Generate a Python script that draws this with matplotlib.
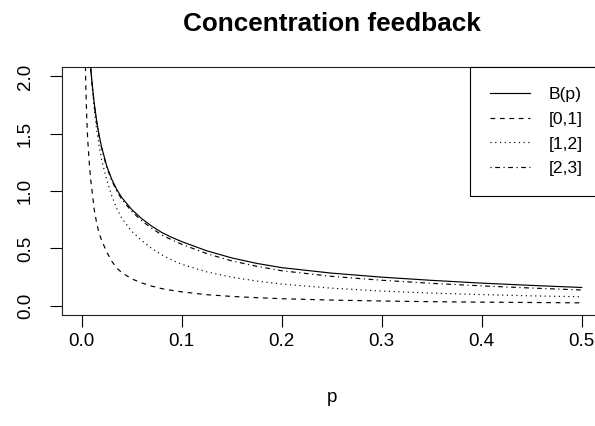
import matplotlib
matplotlib.use("Agg")
import matplotlib.pyplot as plt

plt.rcParams['font.family'] = ['Liberation Sans', 'DejaVu Sans']

# values
p = [0.003, 0.004, 0.005, 0.006, 0.007, 0.008, 0.009, 0.01, 0.0125, 0.015,
     0.0175, 0.02, 0.025, 0.03, 0.035, 0.04, 0.05, 0.06, 0.07, 0.08, 0.09,
     0.1, 0.125, 0.15, 0.175, 0.2, 0.25, 0.3, 0.35, 0.4, 0.45, 0.5]

B_p = [3.3, 3.0, 2.75, 2.52, 2.35, 2.2, 2.08, 1.976, 1.768, 1.61,
       1.484, 1.381, 1.22, 1.105, 1.015, 0.945, 0.84, 0.76, 0.695, 0.64, 0.597,
       0.56, 0.48, 0.418, 0.37, 0.333, 0.285, 0.25, 0.222, 0.198, 0.178, 0.16]

int_01 = [2.5, 1.95, 1.65, 1.45, 1.32, 1.2, 1.1, 1.03, 0.84, 0.72,
          0.63, 0.57, 0.47, 0.39, 0.33, 0.29, 0.235, 0.2, 0.172, 0.15, 0.135,
          0.122, 0.097, 0.082, 0.071, 0.062, 0.05, 0.042, 0.036, 0.032, 0.029, 0.026]

int_12 = [3.2, 2.9, 2.65, 2.45, 2.3, 2.18, 2.07, 1.96, 1.72, 1.53,
          1.39, 1.27, 1.10, 0.96, 0.85, 0.765, 0.65, 0.57, 0.50, 0.445, 0.40,
          0.362, 0.296, 0.25, 0.216, 0.19, 0.154, 0.129, 0.111, 0.098, 0.087, 0.079]

int_23 = [3.3, 3.0, 2.74, 2.51, 2.34, 2.19, 2.07, 1.967, 1.758, 1.60,
          1.474, 1.37, 1.208, 1.093, 1.002, 0.93, 0.823, 0.742, 0.676, 0.619, 0.575,
          0.537, 0.455, 0.392, 0.345, 0.306, 0.257, 0.223, 0.196, 0.174, 0.155, 0.138]

labels = ['B(p)', '[0,1]', '[1,2]', '[2,3]']
xticks = [0.0, 0.1, 0.2, 0.3, 0.4, 0.5]
yticks = [0.0, 0.5, 1.0, 1.5, 2.0]

W, H = 595, 426
fig = plt.figure(figsize=(W / 100, H / 100), dpi=100)
# plot region runs past the right edge of the picture, as in the reference
ax = fig.add_axes([61.7 / W, (H - 315) / H, 540 / W, 247.7 / H])

lw = 0.85
ax.plot(p, B_p, color='black', lw=lw, ls='-', label=labels[0])
ax.plot(p, int_01, color='black', lw=lw, ls=(0, (4, 4)), label=labels[1])
ax.plot(p, int_12, color='black', lw=lw, ls=(0, (1, 3)), label=labels[2])
ax.plot(p, int_23, color='black', lw=lw, ls=(0, (1, 3, 4, 3)), label=labels[3])

ax.set_xlim(-0.02, 0.52)
ax.set_ylim(-0.08, 2.08)

ax.set_xticks(xticks)
ax.set_xticklabels(['%.1f' % v for v in xticks])
ax.set_yticks(yticks)
ax.set_yticklabels(['%.1f' % v for v in yticks], rotation=90, va='center')
ax.tick_params(direction='out', length=8.6, width=0.8,
               labelsize=13.5, colors='black')
ax.tick_params(axis='x', pad=4.7)
ax.tick_params(axis='y', pad=11.5)

for side in ['left', 'bottom', 'top']:
    ax.spines[side].set_linewidth(0.8)
    ax.spines[side].set_color('#222222')
ax.spines['right'].set_visible(False)

ax.set_xlabel('p', fontsize=13.5)
ax.xaxis.set_label_coords(0.5, (315 - 397) / 247.7)
ax.xaxis.label.set_va('center')

fig.text(331.7 / W, 1 - 24 / H, 'Concentration feedback', ha='center', va='center',
         fontsize=18.8, fontweight='bold')

leg = ax.legend(loc='upper right', bbox_to_anchor=(1.0, 1.0), borderaxespad=0,
                fontsize=12.6, handlelength=2.29, handletextpad=1.06,
                borderpad=1.1, labelspacing=0.55, fancybox=False,
                framealpha=1, edgecolor='black')
leg.get_frame().set_linewidth(0.8)

fig.savefig('out.png', dpi=100)
